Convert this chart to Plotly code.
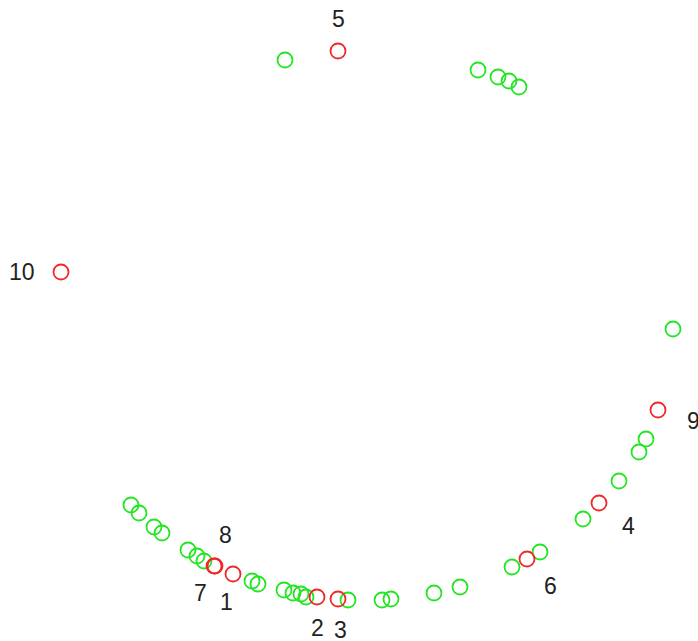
import plotly.graph_objects as go

# Green (unlabelled) observations
green_x = [285, 478, 498, 509, 519, 673, 646, 639, 619, 583, 540, 512, 460, 434,
           131, 139, 154, 162, 188, 197, 204, 252, 258, 284, 293, 301, 306, 348, 382, 391]
green_y = [581, 571, 564, 560, 554, 312, 202, 189, 160, 122, 89, 74, 54, 48,
           136, 128, 114, 108, 91, 85, 80, 60, 57, 51, 48, 47, 44, 41, 41, 42]

# Red (labelled) observations
red_labels = ["1", "2", "3", "4", "5", "6", "7", "8", "9", "10"]
red_x = [233, 317, 338, 599, 338, 527, 214, 215, 658, 61]
red_y = [67, 44, 42, 138, 590, 82, 75, 75, 231, 369]

# label offsets (pixels) relative to their points
label_dx = [-7, 0, 2, 29, 0, 23, -14, 10, 35, -39]
label_dy = [-28, -31, -31, -23, 32, -27, -27, 31, -11, 0]

fig = go.Figure()
fig.add_trace(go.Scatter(
    x=green_x, y=green_y, mode="markers",
    marker=dict(symbol="circle-open", size=15, color="#22e622", line=dict(width=1.8)),
    hoverinfo="skip", showlegend=False))
fig.add_trace(go.Scatter(
    x=red_x, y=red_y, mode="markers",
    marker=dict(symbol="circle-open", size=15, color="#f02828", line=dict(width=1.8)),
    hoverinfo="skip", showlegend=False))

for lab, x, y, dx, dy in zip(red_labels, red_x, red_y, label_dx, label_dy):
    fig.add_annotation(x=x, y=y, text=lab, showarrow=False, xshift=dx, yshift=dy,
                       font=dict(family="Liberation Sans Narrow, Arial Narrow, sans-serif",
                                 size=23, color="#222222"))

fig.update_layout(
    width=698, height=641,
    margin=dict(l=0, r=0, t=0, b=0),
    paper_bgcolor="white", plot_bgcolor="white",
    xaxis=dict(range=[0, 698], visible=False),
    yaxis=dict(range=[0, 641], visible=False),
)
fig.write_html("out.html", config={"displayModeBar": False},
               post_script="document.body.style.margin='0';document.body.style.overflow='hidden';")
